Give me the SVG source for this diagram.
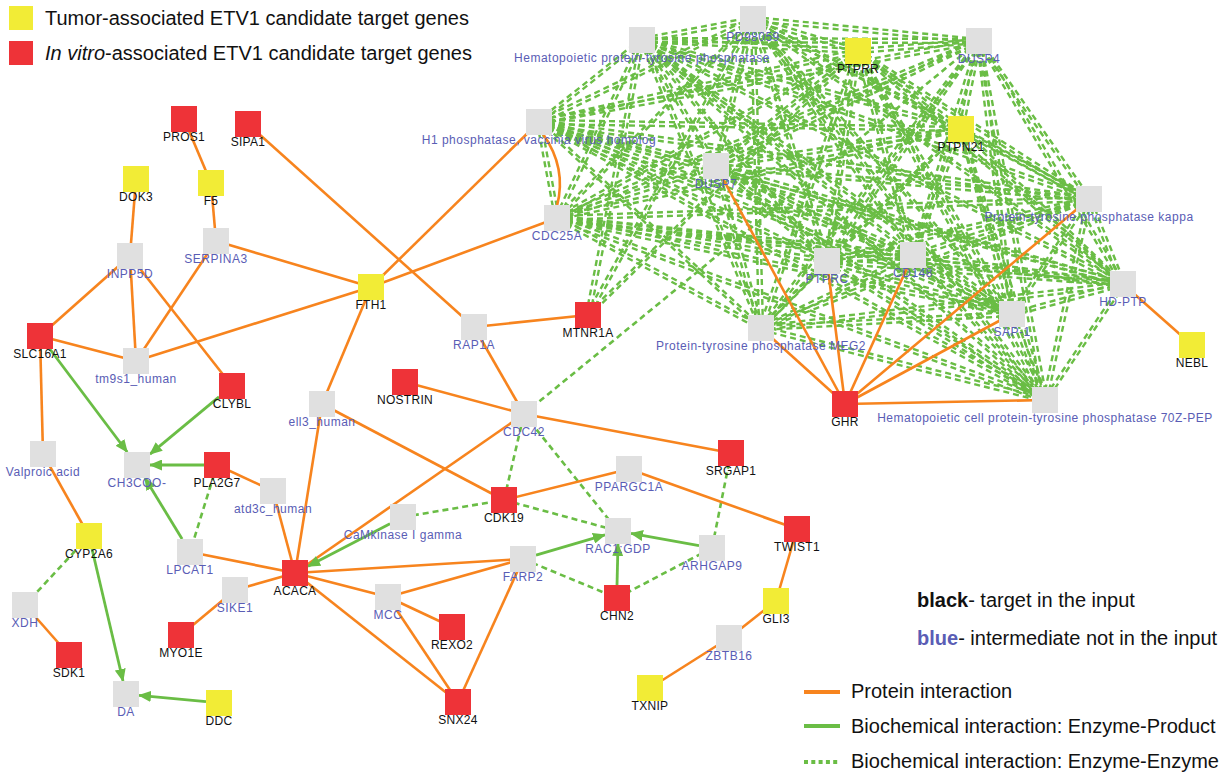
<svg xmlns="http://www.w3.org/2000/svg" xmlns:xlink="http://www.w3.org/1999/xlink" width="1230" height="773" viewBox="0 0 1230 773">
<style>
.pi{stroke:#f7841e;stroke-width:2.6;fill:none}
.ep{stroke:#6abd45;stroke-width:2.8;fill:none;marker-end:url(#arr)}
.ee{stroke:#6abd45;stroke-width:2.6;stroke-dasharray:6 4;fill:none}
.cq line{stroke:#6abd45;stroke-width:2.4;stroke-dasharray:6 4}
.red{fill:#ee3338}
.yel{fill:#f2ec36}
.gry{fill:#e0e0e0}
.lb{font-family:"Liberation Sans",Arial,sans-serif;font-size:12px;text-anchor:middle}
.t{fill:#111;letter-spacing:0.3px}
.i{fill:#5a5db5;letter-spacing:0.5px}
.lg{font-family:"Liberation Sans",Arial,sans-serif;font-size:20px;fill:#111}
</style>
<defs>
<marker id="arr" markerUnits="userSpaceOnUse" markerWidth="13" markerHeight="11" refX="12" refY="5.5" orient="auto">
<path d="M0,0 L13,5.5 L0,11 z" fill="#6abd45"/>
</marker>
<g id="ccH" class="cq">
<line x1="642" y1="40" x2="753" y2="19"/><line x1="642" y1="40" x2="858" y2="51"/><line x1="642" y1="40" x2="979" y2="41"/><line x1="642" y1="40" x2="539" y2="122"/><line x1="642" y1="40" x2="961" y2="129"/><line x1="642" y1="40" x2="1089" y2="199"/><line x1="642" y1="40" x2="913" y2="255"/><line x1="642" y1="40" x2="1123" y2="284"/><line x1="642" y1="40" x2="1012" y2="314"/><line x1="642" y1="40" x2="1045" y2="400"/>
<line x1="753" y1="19" x2="858" y2="51"/><line x1="753" y1="19" x2="979" y2="41"/><line x1="753" y1="19" x2="539" y2="122"/><line x1="753" y1="19" x2="961" y2="129"/><line x1="753" y1="19" x2="1089" y2="199"/><line x1="753" y1="19" x2="1123" y2="284"/>
<line x1="858" y1="51" x2="979" y2="41"/><line x1="858" y1="51" x2="539" y2="122"/><line x1="858" y1="51" x2="961" y2="129"/><line x1="858" y1="51" x2="716" y2="166"/><line x1="858" y1="51" x2="557" y2="218"/><line x1="858" y1="51" x2="1089" y2="199"/><line x1="858" y1="51" x2="1123" y2="284"/>
<line x1="979" y1="41" x2="539" y2="122"/><line x1="979" y1="41" x2="716" y2="166"/><line x1="979" y1="41" x2="557" y2="218"/>
<line x1="539" y1="122" x2="961" y2="129"/><line x1="539" y1="122" x2="716" y2="166"/><line x1="539" y1="122" x2="1089" y2="199"/><line x1="539" y1="122" x2="827" y2="261"/><line x1="539" y1="122" x2="913" y2="255"/><line x1="539" y1="122" x2="1123" y2="284"/><line x1="539" y1="122" x2="1012" y2="314"/><line x1="539" y1="122" x2="761" y2="328"/><line x1="539" y1="122" x2="1045" y2="400"/>
<line x1="961" y1="129" x2="716" y2="166"/><line x1="961" y1="129" x2="557" y2="218"/><line x1="961" y1="129" x2="1089" y2="199"/><line x1="961" y1="129" x2="827" y2="261"/><line x1="961" y1="129" x2="1123" y2="284"/><line x1="961" y1="129" x2="761" y2="328"/>
<line x1="716" y1="166" x2="557" y2="218"/><line x1="716" y1="166" x2="1089" y2="199"/><line x1="716" y1="166" x2="827" y2="261"/><line x1="716" y1="166" x2="913" y2="255"/><line x1="716" y1="166" x2="1123" y2="284"/><line x1="716" y1="166" x2="1012" y2="314"/><line x1="716" y1="166" x2="1045" y2="400"/>
<line x1="557" y1="218" x2="1089" y2="199"/><line x1="557" y1="218" x2="827" y2="261"/><line x1="557" y1="218" x2="913" y2="255"/><line x1="557" y1="218" x2="1123" y2="284"/><line x1="557" y1="218" x2="1012" y2="314"/><line x1="557" y1="218" x2="761" y2="328"/><line x1="557" y1="218" x2="1045" y2="400"/>
<line x1="1089" y1="199" x2="827" y2="261"/><line x1="1089" y1="199" x2="913" y2="255"/><line x1="1089" y1="199" x2="761" y2="328"/>
<line x1="827" y1="261" x2="913" y2="255"/><line x1="827" y1="261" x2="1123" y2="284"/><line x1="827" y1="261" x2="1012" y2="314"/><line x1="827" y1="261" x2="1045" y2="400"/>
<line x1="913" y1="255" x2="1123" y2="284"/><line x1="913" y1="255" x2="1012" y2="314"/><line x1="913" y1="255" x2="761" y2="328"/>
<line x1="1123" y1="284" x2="1012" y2="314"/><line x1="1123" y1="284" x2="761" y2="328"/>
<line x1="1012" y1="314" x2="761" y2="328"/><line x1="761" y1="328" x2="1045" y2="400"/>
<line x1="588" y1="315" x2="858" y2="51"/>
</g>
<g id="ccV" class="cq">
<line x1="642" y1="40" x2="716" y2="166"/><line x1="642" y1="40" x2="557" y2="218"/><line x1="642" y1="40" x2="827" y2="261"/><line x1="642" y1="40" x2="761" y2="328"/>
<line x1="753" y1="19" x2="716" y2="166"/><line x1="753" y1="19" x2="557" y2="218"/><line x1="753" y1="19" x2="827" y2="261"/><line x1="753" y1="19" x2="913" y2="255"/><line x1="753" y1="19" x2="1012" y2="314"/><line x1="753" y1="19" x2="761" y2="328"/><line x1="753" y1="19" x2="1045" y2="400"/>
<line x1="858" y1="51" x2="827" y2="261"/><line x1="858" y1="51" x2="913" y2="255"/><line x1="858" y1="51" x2="1012" y2="314"/><line x1="858" y1="51" x2="761" y2="328"/><line x1="858" y1="51" x2="1045" y2="400"/>
<line x1="979" y1="41" x2="961" y2="129"/><line x1="979" y1="41" x2="1089" y2="199"/><line x1="979" y1="41" x2="827" y2="261"/><line x1="979" y1="41" x2="913" y2="255"/><line x1="979" y1="41" x2="1123" y2="284"/><line x1="979" y1="41" x2="1012" y2="314"/><line x1="979" y1="41" x2="761" y2="328"/><line x1="979" y1="41" x2="1045" y2="400"/>
<line x1="539" y1="122" x2="557" y2="218"/>
<line x1="961" y1="129" x2="913" y2="255"/><line x1="961" y1="129" x2="1012" y2="314"/><line x1="961" y1="129" x2="1045" y2="400"/>
<line x1="716" y1="166" x2="761" y2="328"/>
<line x1="1089" y1="199" x2="1123" y2="284"/><line x1="1089" y1="199" x2="1012" y2="314"/><line x1="1089" y1="199" x2="1045" y2="400"/>
<line x1="827" y1="261" x2="761" y2="328"/><line x1="913" y1="255" x2="1045" y2="400"/><line x1="1123" y1="284" x2="1045" y2="400"/><line x1="1012" y1="314" x2="1045" y2="400"/>
<line x1="588" y1="315" x2="642" y2="40"/><line x1="588" y1="315" x2="753" y2="19"/>
</g>
</defs>
<rect width="1230" height="773" fill="#fff"/>

<g id="legend">
<rect x="9" y="6" width="24" height="24" class="yel"/>
<text x="45" y="25" class="lg">Tumor-associated ETV1 candidate target genes</text>
<rect x="9" y="41" width="24" height="24" class="red"/>
<text x="45" y="60" class="lg"><tspan font-style="italic">In vitro</tspan>-associated ETV1 candidate target genes</text>
<text x="917" y="607" class="lg"><tspan font-weight="bold">black</tspan>- target in the input</text>
<text x="917" y="645" class="lg"><tspan font-weight="bold" fill="#5a5db5">blue</tspan>- intermediate not in the input</text>
<line x1="804" y1="692" x2="840" y2="692" stroke="#f7841e" stroke-width="4"/>
<text x="851" y="698" class="lg">Protein interaction</text>
<line x1="804" y1="726" x2="840" y2="726" stroke="#6abd45" stroke-width="4"/>
<text x="851" y="733" class="lg">Biochemical interaction: Enzyme-Product</text>
<line x1="804" y1="762" x2="840" y2="762" stroke="#6abd45" stroke-width="4" stroke-dasharray="4 3.3"/>
<text x="851" y="768" class="lg">Biochemical interaction: Enzyme-Enzyme</text>
</g>

<g id="connectors">
<g id="enzyme-enzyme">
<use href="#ccH" transform="translate(0,-2)"/>
<use href="#ccH" transform="translate(0,2)"/>
<use href="#ccV" transform="translate(-2,0)"/>
<use href="#ccV" transform="translate(2,0)"/>
<line class="ee" x1="217" y1="465" x2="190" y2="552"/>
<line class="ee" x1="89" y1="536" x2="25" y2="605"/>
<line class="ee" x1="403" y1="517" x2="504" y2="500"/>
<line class="ee" x1="504" y1="500" x2="524" y2="414"/>
<line class="ee" x1="504" y1="500" x2="618" y2="531"/>
<line class="ee" x1="524" y1="414" x2="618" y2="531"/>
<line class="ee" x1="731" y1="453" x2="712" y2="548"/>
<line class="ee" x1="523" y1="559" x2="617" y2="598"/>
<line class="ee" x1="617" y1="598" x2="712" y2="548"/>
<line class="ee" x1="524" y1="414" x2="979" y2="41"/>
</g>
<g id="protein">
<line class="pi" x1="184" y1="119" x2="211" y2="183"/>
<line class="pi" x1="248" y1="124" x2="474" y2="327"/>
<line class="pi" x1="136" y1="179" x2="130" y2="256"/>
<line class="pi" x1="211" y1="183" x2="216" y2="241"/>
<line class="pi" x1="216" y1="241" x2="371" y2="287"/>
<line class="pi" x1="216" y1="241" x2="136" y2="361"/>
<line class="pi" x1="130" y1="256" x2="40" y2="336"/>
<line class="pi" x1="130" y1="256" x2="136" y2="361"/>
<line class="pi" x1="130" y1="256" x2="232" y2="386"/>
<line class="pi" x1="40" y1="336" x2="136" y2="361"/>
<line class="pi" x1="136" y1="361" x2="371" y2="287"/>
<line class="pi" x1="40" y1="336" x2="43" y2="454"/>
<line class="pi" x1="371" y1="287" x2="539" y2="122"/>
<line class="pi" x1="371" y1="287" x2="557" y2="218"/>
<line class="pi" x1="371" y1="287" x2="322" y2="404"/>
<line class="pi" x1="43" y1="454" x2="89" y2="536"/>
<line class="pi" x1="322" y1="404" x2="504" y2="500"/>
<line class="pi" x1="322" y1="404" x2="295" y2="573"/>
<line class="pi" x1="273" y1="491" x2="295" y2="573"/>
<line class="pi" x1="217" y1="465" x2="273" y2="491"/>
<line class="pi" x1="190" y1="552" x2="295" y2="573"/>
<line class="pi" x1="235" y1="590" x2="295" y2="573"/>
<line class="pi" x1="181" y1="635" x2="235" y2="590"/>
<line class="pi" x1="25" y1="605" x2="69" y2="655"/>
<line class="pi" x1="405" y1="382" x2="524" y2="414"/>
<line class="pi" x1="474" y1="327" x2="588" y2="315"/>
<line class="pi" x1="474" y1="327" x2="524" y2="414"/>
<line class="pi" x1="524" y1="414" x2="295" y2="573"/>
<line class="pi" x1="524" y1="414" x2="731" y2="453"/>
<line class="pi" x1="504" y1="500" x2="629" y2="469"/>
<line class="pi" x1="629" y1="469" x2="797" y2="529"/>
<line class="pi" x1="295" y1="573" x2="523" y2="559"/>
<line class="pi" x1="295" y1="573" x2="388" y2="597"/>
<line class="pi" x1="295" y1="573" x2="458" y2="702"/>
<line class="pi" x1="388" y1="597" x2="523" y2="559"/>
<line class="pi" x1="388" y1="597" x2="452" y2="627"/>
<line class="pi" x1="388" y1="597" x2="458" y2="702"/>
<line class="pi" x1="523" y1="559" x2="458" y2="702"/>
<line class="pi" x1="797" y1="529" x2="776" y2="601"/>
<line class="pi" x1="776" y1="601" x2="729" y2="638"/>
<line class="pi" x1="729" y1="638" x2="650" y2="688"/>
<line class="pi" x1="1123" y1="284" x2="1192" y2="345"/>
<line class="pi" x1="845" y1="404" x2="716" y2="166"/>
<line class="pi" x1="845" y1="404" x2="827" y2="261"/>
<line class="pi" x1="845" y1="404" x2="913" y2="255"/>
<line class="pi" x1="845" y1="404" x2="1089" y2="199"/>
<line class="pi" x1="845" y1="404" x2="1012" y2="314"/>
<line class="pi" x1="845" y1="404" x2="761" y2="328"/>
<line class="pi" x1="845" y1="404" x2="1045" y2="400"/>
<path class="pi" d="M543,134 Q567,168 557,206"/>
</g>
<g id="enzyme-product">
<line class="ep" x1="49.8" y1="349" x2="127.2" y2="452"/>
<line class="ep" x1="219" y1="396.8" x2="150" y2="454.2"/>
<line class="ep" x1="204" y1="465" x2="150" y2="465"/>
<line class="ep" x1="182.1" y1="539" x2="144.9" y2="478"/>
<line class="ep" x1="92" y1="549" x2="123" y2="681"/>
<line class="ep" x1="206" y1="701.7" x2="139" y2="695.3"/>
<line class="ep" x1="390" y1="523.7" x2="308" y2="566.3"/>
<line class="ep" x1="536" y1="555.2" x2="605" y2="534.8"/>
<line class="ep" x1="699" y1="545.6" x2="631" y2="533.4"/>
<line class="ep" x1="617" y1="585" x2="618" y2="544"/>
</g>
</g>

<g id="nodes">
<g id="n-PROS1"><rect x="171" y="106" width="26" height="26" class="red"/><text x="184" y="141" class="lb t">PROS1</text></g>
<g id="n-SIPA1"><rect x="235" y="111" width="26" height="26" class="red"/><text x="248" y="146" class="lb t">SIPA1</text></g>
<g id="n-DOK3"><rect x="123" y="166" width="26" height="26" class="yel"/><text x="136" y="201" class="lb t">DOK3</text></g>
<g id="n-F5"><rect x="198" y="170" width="26" height="26" class="yel"/><text x="211" y="205" class="lb t">F5</text></g>
<g id="n-SERPINA3"><rect x="203" y="228" width="26" height="26" class="gry"/><text x="216" y="263" class="lb i">SERPINA3</text></g>
<g id="n-INPP5D"><rect x="117" y="243" width="26" height="26" class="gry"/><text x="130" y="278" class="lb i">INPP5D</text></g>
<g id="n-FTH1"><rect x="358" y="274" width="26" height="26" class="yel"/><text x="371" y="309" class="lb t">FTH1</text></g>
<g id="n-SLC16A1"><rect x="27" y="323" width="26" height="26" class="red"/><text x="40" y="358" class="lb t">SLC16A1</text></g>
<g id="n-tm9s1_human"><rect x="123" y="348" width="26" height="26" class="gry"/><text x="136" y="383" class="lb i">tm9s1_human</text></g>
<g id="n-CLYBL"><rect x="219" y="373" width="26" height="26" class="red"/><text x="232" y="408" class="lb t">CLYBL</text></g>
<g id="n-ell3_human"><rect x="309" y="391" width="26" height="26" class="gry"/><text x="322" y="426" class="lb i">ell3_human</text></g>
<g id="n-NOSTRIN"><rect x="392" y="369" width="26" height="26" class="red"/><text x="405" y="404" class="lb t">NOSTRIN</text></g>
<g id="n-Valproic"><rect x="30" y="441" width="26" height="26" class="gry"/><text x="43" y="476" class="lb i">Valproic acid</text></g>
<g id="n-CH3COO"><rect x="124" y="452" width="26" height="26" class="gry"/><text x="137" y="487" class="lb i">CH3COO-</text></g>
<g id="n-PLA2G7"><rect x="204" y="452" width="26" height="26" class="red"/><text x="217" y="487" class="lb t">PLA2G7</text></g>
<g id="n-CYP2A6"><rect x="76" y="523" width="26" height="26" class="yel"/><text x="89" y="558" class="lb t">CYP2A6</text></g>
<g id="n-LPCAT1"><rect x="177" y="539" width="26" height="26" class="gry"/><text x="190" y="574" class="lb i">LPCAT1</text></g>
<g id="n-atd3c_human"><rect x="260" y="478" width="26" height="26" class="gry"/><text x="273" y="513" class="lb i">atd3c_human</text></g>
<g id="n-ACACA"><rect x="282" y="560" width="26" height="26" class="red"/><text x="295" y="595" class="lb t">ACACA</text></g>
<g id="n-SIKE1"><rect x="222" y="577" width="26" height="26" class="gry"/><text x="235" y="612" class="lb i">SIKE1</text></g>
<g id="n-XDH"><rect x="12" y="592" width="26" height="26" class="gry"/><text x="25" y="627" class="lb i">XDH</text></g>
<g id="n-MYO1E"><rect x="168" y="622" width="26" height="26" class="red"/><text x="181" y="657" class="lb t">MYO1E</text></g>
<g id="n-SDK1"><rect x="56" y="642" width="26" height="26" class="red"/><text x="69" y="677" class="lb t">SDK1</text></g>
<g id="n-DA"><rect x="113" y="681" width="26" height="26" class="gry"/><text x="126" y="716" class="lb i">DA</text></g>
<g id="n-DDC"><rect x="206" y="690" width="26" height="26" class="yel"/><text x="219" y="725" class="lb t">DDC</text></g>
<g id="n-CaMK"><rect x="390" y="504" width="26" height="26" class="gry"/><text x="403" y="539" class="lb i">CaMkinase I gamma</text></g>
<g id="n-MCC"><rect x="375" y="584" width="26" height="26" class="gry"/><text x="388" y="619" class="lb i">MCC</text></g>
<g id="n-RAP1A"><rect x="461" y="314" width="26" height="26" class="gry"/><text x="474" y="349" class="lb i">RAP1A</text></g>
<g id="n-MTNR1A"><rect x="575" y="302" width="26" height="26" class="red"/><text x="588" y="337" class="lb t">MTNR1A</text></g>
<g id="n-CDC42"><rect x="511" y="401" width="26" height="26" class="gry"/><text x="524" y="436" class="lb i">CDC42</text></g>
<g id="n-PPARGC1A"><rect x="616" y="456" width="26" height="26" class="gry"/><text x="629" y="491" class="lb i">PPARGC1A</text></g>
<g id="n-CDK19"><rect x="491" y="487" width="26" height="26" class="red"/><text x="504" y="522" class="lb t">CDK19</text></g>
<g id="n-RAC1GDP"><rect x="605" y="518" width="26" height="26" class="gry"/><text x="618" y="553" class="lb i">RAC1:GDP</text></g>
<g id="n-SRGAP1"><rect x="718" y="440" width="26" height="26" class="red"/><text x="731" y="475" class="lb t">SRGAP1</text></g>
<g id="n-FARP2"><rect x="510" y="546" width="26" height="26" class="gry"/><text x="523" y="581" class="lb i">FARP2</text></g>
<g id="n-ARHGAP9"><rect x="699" y="535" width="26" height="26" class="gry"/><text x="712" y="570" class="lb i">ARHGAP9</text></g>
<g id="n-TWIST1"><rect x="784" y="516" width="26" height="26" class="red"/><text x="797" y="551" class="lb t">TWIST1</text></g>
<g id="n-CHN2"><rect x="604" y="585" width="26" height="26" class="red"/><text x="617" y="620" class="lb t">CHN2</text></g>
<g id="n-REXO2"><rect x="439" y="614" width="26" height="26" class="red"/><text x="452" y="649" class="lb t">REXO2</text></g>
<g id="n-GLI3"><rect x="763" y="588" width="26" height="26" class="yel"/><text x="776" y="623" class="lb t">GLI3</text></g>
<g id="n-ZBTB16"><rect x="716" y="625" width="26" height="26" class="gry"/><text x="729" y="660" class="lb i">ZBTB16</text></g>
<g id="n-TXNIP"><rect x="637" y="675" width="26" height="26" class="yel"/><text x="650" y="710" class="lb t">TXNIP</text></g>
<g id="n-SNX24"><rect x="445" y="689" width="26" height="26" class="red"/><text x="458" y="724" class="lb t">SNX24</text></g>
<g id="n-HePTP"><rect x="629" y="27" width="26" height="26" class="gry"/><text x="642" y="62" class="lb i">Hematopoietic protein-tyrosine phosphatase</text></g>
<g id="n-PD98059"><rect x="740" y="6" width="26" height="26" class="gry"/><text x="753" y="41" class="lb i">PD98059</text></g>
<g id="n-PTPRR"><rect x="845" y="38" width="26" height="26" class="yel"/><text x="858" y="73" class="lb t">PTPRR</text></g>
<g id="n-DUSP4"><rect x="966" y="28" width="26" height="26" class="gry"/><text x="979" y="63" class="lb i">DUSP4</text></g>
<g id="n-H1"><rect x="526" y="109" width="26" height="26" class="gry"/><text x="539" y="144" class="lb i">H1 phosphatase, vaccinia virus homolog</text></g>
<g id="n-PTPN21"><rect x="948" y="116" width="26" height="26" class="yel"/><text x="961" y="151" class="lb t">PTPN21</text></g>
<g id="n-DUSP7"><rect x="703" y="153" width="26" height="26" class="gry"/><text x="716" y="188" class="lb i">DUSP7</text></g>
<g id="n-CDC25A"><rect x="544" y="205" width="26" height="26" class="gry"/><text x="557" y="240" class="lb i">CDC25A</text></g>
<g id="n-PTPkappa"><rect x="1076" y="186" width="26" height="26" class="gry"/><text x="1089" y="221" class="lb i">Protein-tyrosine phosphatase kappa</text></g>
<g id="n-PTPRC"><rect x="814" y="248" width="26" height="26" class="gry"/><text x="827" y="283" class="lb i">PTPRC</text></g>
<g id="n-CD148"><rect x="900" y="242" width="26" height="26" class="gry"/><text x="913" y="277" class="lb i">CD148</text></g>
<g id="n-HDPTP"><rect x="1110" y="271" width="26" height="26" class="gry"/><text x="1123" y="306" class="lb i">HD-PTP</text></g>
<g id="n-SAP1"><rect x="999" y="301" width="26" height="26" class="gry"/><text x="1012" y="336" class="lb i">SAP-1</text></g>
<g id="n-MEG2"><rect x="748" y="315" width="26" height="26" class="gry"/><text x="761" y="350" class="lb i">Protein-tyrosine phosphatase MEG2</text></g>
<g id="n-70ZPEP"><rect x="1032" y="387" width="26" height="26" class="gry"/><text x="1045" y="422" class="lb i">Hematopoietic cell protein-tyrosine phosphatase 70Z-PEP</text></g>
<g id="n-GHR"><rect x="832" y="391" width="26" height="26" class="red"/><text x="845" y="426" class="lb t">GHR</text></g>
<g id="n-NEBL"><rect x="1179" y="332" width="26" height="26" class="yel"/><text x="1192" y="367" class="lb t">NEBL</text></g>
</g>
</svg>
